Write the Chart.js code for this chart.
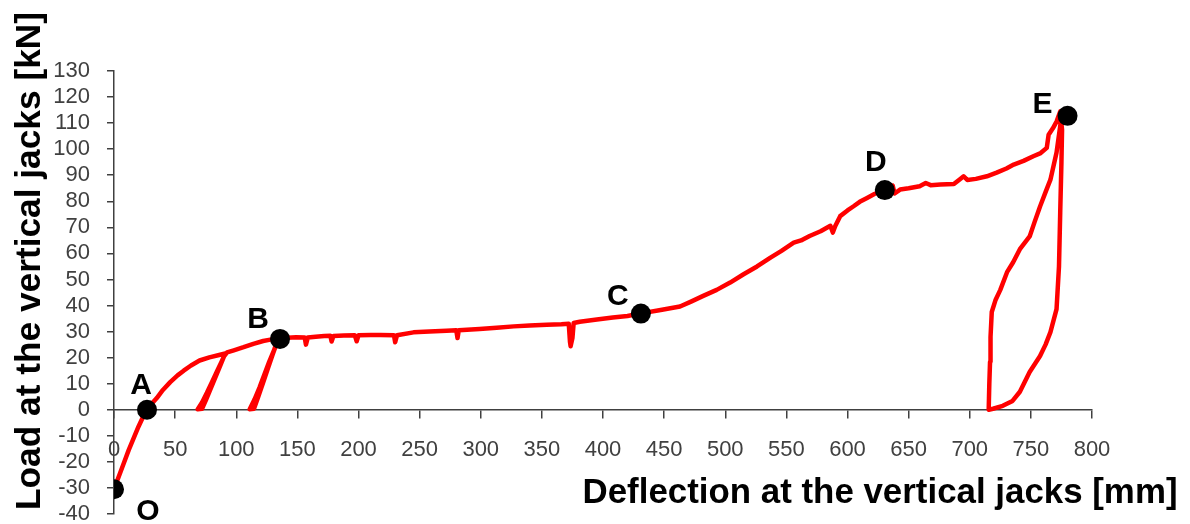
<!DOCTYPE html>
<html>
<head>
<meta charset="utf-8">
<script src="https://cdn.jsdelivr.net/npm/chart.js@4.4.0/dist/chart.umd.min.js"></script>
<style>
  html, body { margin: 0; padding: 0; background: #fff; }
</style>
</head>
<body>
<canvas id="grafico" width="1190" height="524"></canvas>
<script>
// Load-deflection curve
const deflection = [
  0, 4, 8, 12, 16, 20, 24, 27, 31, 35, 40, 46, 52, 57, 63, 70, 78, 86, 91,
  88, 84, 80, 76, 72, 68.5, 72, 75, 79, 83, 87, 90, 92.5,
  98, 106, 114, 122, 129, 134,
  131, 127, 123, 119, 115, 111, 114.5, 118, 122, 126, 130, 133.5, 136,
  142, 149, 156, 157, 158.5, 165, 172, 177, 178, 179.5, 188, 197, 198.5, 200,
  210, 218, 229, 230, 231.5, 245, 258, 272, 280, 281, 282, 299, 313, 327, 340,
  354, 366, 372, 373, 373.5, 375, 376, 381, 395, 408, 420, 431, 446, 463, 472,
  482, 493, 504, 515, 526, 537, 546, 556, 562, 569, 578, 586, 588, 590, 594,
  600, 605, 610, 616, 622, 628, 633, 637, 638.5, 643, 650, 659, 664, 668, 676,
  687, 692, 695, 698, 705, 714, 722, 730, 736, 744, 752, 758, 763, 764.5, 768,
  771, 774,
  775.5, 775, 774, 773, 771, 766, 762, 757.5, 749, 741, 735, 727, 719, 715.5,
  716, 716.6, 717, 718, 721, 725, 730.5, 735.5, 741, 749, 753, 757.5, 762, 766,
  771, 775.5
];
const load = [
  -30.5, -25.5, -20.5, -15.5, -11, -6.5, -2.5, 0, 2.4, 4.5, 7.6, 10.6, 13.2, 15, 17, 18.9, 20.1, 21, 21.6,
  18.5, 14.5, 10.5, 6.5, 2.8, 0.2, 0.4, 3.5, 8, 12.5, 17, 20.5, 22,
  22.8, 24, 25.3, 26.4, 27, 27.3,
  23, 18.5, 13.5, 8.5, 4, 0.2, 0.4, 5, 10.5, 16, 21.5, 26, 27.5,
  27.6, 27.8, 27.7, 25, 27.7, 28, 28.3, 28.4, 26.2, 28.3, 28.5, 28.6, 26.3, 28.6,
  28.7, 28.7, 28.6, 25.9, 28.6, 29.7, 30, 30.3, 30.5, 27.5, 30.5, 31, 31.5, 32, 32.3,
  32.6, 32.8, 33, 26, 24.4, 27.5, 33.3, 33.8, 34.6, 35.4, 36, 37, 38.2, 39.6, 41.5,
  43.7, 46, 48.8, 52, 55, 58.4, 61, 64.1, 65, 66.7, 68.5, 70.6, 68, 70.5, 74.3,
  76.5, 78.1, 79.8, 81.3, 82.8, 84, 84.8, 86, 83, 84.5, 85, 85.8, 87, 86.2, 86.4,
  86.6, 88.5, 89.6, 88.2, 88.6, 89.6, 91, 92.6, 94.1, 95.5, 97.3, 98.5, 100.5, 105.5, 108,
  110.6, 114.5,
  107.5, 95, 75.7, 55, 38.6, 29.8, 25, 20.6, 14.5, 6.9, 3.4, 1.5, 0.4, 0,
  10, 18.4, 28, 37.5, 42, 46, 52.8, 56.6, 61.6, 66.5, 72, 78, 83.5, 88.3,
  98.7, 114
];

// Marked points O..E
const pointNames = ["O", "A", "B", "C", "D", "E"];
const pointX = [0, 27, 135.8, 431, 630.5, 780];
const pointY = [-30.5, 0, 27.2, 36.9, 84.3, 112.8];

const fonte = '"Liberation Sans", Arial, sans-serif';

// label offsets (px) from each dot
const labelOffsets = {
  O: [34, 22], A: [-6, -24], B: [-22, -19],
  C: [-23, -17], D: [-9, -27], E: [-25, -11]
};

// titles and point letters
const textos = {
  id: 'textos',
  afterDraw(chart) {
    const c = chart.ctx;
    const xs = chart.scales.x;
    const ys = chart.scales.y;
    c.save();
    c.fillStyle = '#000';
    c.font = 'bold 30px ' + fonte;
    c.textAlign = 'center';
    c.textBaseline = 'middle';
    pointNames.forEach((n, i) => {
      const off = labelOffsets[n];
      c.fillText(n, xs.getPixelForValue(pointX[i]) + off[0], ys.getPixelForValue(pointY[i]) + off[1]);
    });

    c.font = 'bold 35px ' + fonte;
    c.textBaseline = 'alphabetic';
    const xt = 'Deflection at the vertical jacks [mm]';
    const xw = c.measureText(xt).width;
    c.save();
    c.translate(880, 503);
    c.scale(595 / xw, 1);
    c.fillText(xt, 0, 0);
    c.restore();

    const yt = 'Load at the vertical jacks [kN]';
    const yw = c.measureText(yt).width;
    c.save();
    c.translate(40, 261);
    c.rotate(-Math.PI / 2);
    c.scale(498 / yw, 1);
    c.fillText(yt, 0, 0);
    c.restore();
    c.restore();
  }
};

const ctx = document.getElementById('grafico').getContext('2d');
new Chart(ctx, {
  type: 'scatter',
  data: {
    datasets: [
      {
        data: deflection.map((d, i) => ({ x: d, y: load[i] })),
        showLine: true,
        borderColor: '#ff0000',
        borderWidth: 4.5,
        borderJoinStyle: 'round',
        borderCapStyle: 'round',
        pointRadius: 0,
        tension: 0,
        order: 2
      },
      {
        data: pointX.map((d, i) => ({ x: d, y: pointY[i] })),
        showLine: false,
        pointRadius: 10,
        pointBackgroundColor: '#000',
        pointBorderColor: '#000',
        pointBorderWidth: 0,
        order: 1
      }
    ]
  },
  options: {
    responsive: false,
    animation: false,
    layout: { padding: { top: 71, right: 98, bottom: 10, left: 0 } },
    plugins: {
      legend: { display: false },
      tooltip: { enabled: false }
    },
    scales: {
      x: {
        type: 'linear',
        min: 0,
        max: 800,
        position: { y: 0 },
        ticks: {
          stepSize: 50,
          autoSkip: false,
          maxRotation: 0,
          padding: 19,
          color: '#404040',
          font: { family: fonte, size: 22 }
        },
        grid: { drawOnChartArea: false, tickLength: 8, color: '#404040', lineWidth: 1.5 },
        border: { color: '#404040', width: 1.5 }
      },
      y: {
        min: -40,
        max: 130,
        ticks: {
          stepSize: 10,
          autoSkip: false,
          padding: 17,
          color: '#404040',
          font: { family: fonte, size: 22 }
        },
        grid: { drawOnChartArea: false, tickLength: 7, color: '#404040', lineWidth: 1.5 },
        border: { color: '#404040', width: 1.5 },
        afterFit(scale) {
          scale.width = 114;
          scale.paddingTop = 0;
          scale.paddingBottom = 0;
        }
      }
    }
  },
  plugins: [textos]
});
</script>
</body>
</html>
